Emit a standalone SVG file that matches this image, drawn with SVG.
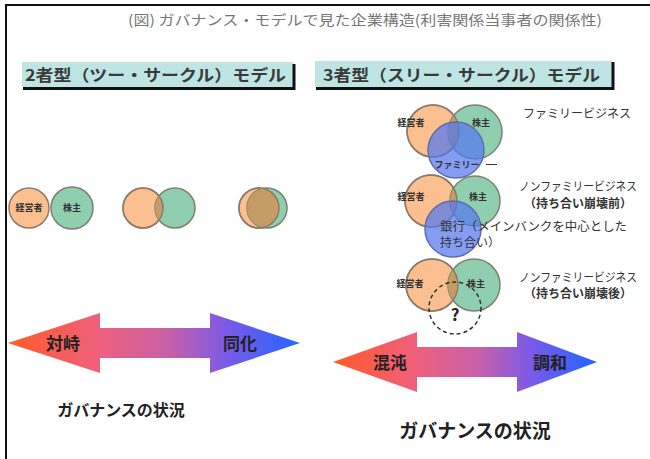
<svg xmlns="http://www.w3.org/2000/svg" width="650" height="459" viewBox="0 0 650 459">
<style>
text{font-family:"Noto Sans CJK JP","Noto Sans",sans-serif}
.ttl{font-size:14px;fill:#777}
.hdr{font-size:16px;font-weight:bold;fill:#3a3a3a}
.hbox{fill:#bfe4e4}
.hsh{fill:none;stroke:#111;stroke-width:3}
.or{fill:#fcbf90;stroke:#8c7b6b;stroke-width:1.5}
.gr{fill:#8fcfb0;stroke:#7d8070;stroke-width:1.5}
.ov{fill:#c49c64}
.bl{fill:#5577ee;fill-opacity:0.72;stroke:#5b6fa8;stroke-width:1.5}
.cl{font-size:9px;font-weight:bold;fill:#333;text-anchor:middle}
.lab{font-size:12px;fill:#333}
.labb{font-size:12px;font-weight:bold;fill:#333}
.al{font-size:17px;font-weight:bold;fill:#222;text-anchor:middle}
.gs{font-weight:bold;fill:#222;text-anchor:middle}
</style>
<defs>
<linearGradient id="ag" x1="0" y1="0" x2="1" y2="0">
<stop offset="0" stop-color="#ff5a28"/>
<stop offset="0.3" stop-color="#f0607a"/>
<stop offset="0.55" stop-color="#c860a8"/>
<stop offset="0.75" stop-color="#7a5ae8"/>
<stop offset="1" stop-color="#2266ff"/>
</linearGradient>
<clipPath id="c1"><circle cx="143" cy="208" r="20"/></clipPath>
<clipPath id="c2"><circle cx="259" cy="208" r="20"/></clipPath>
<clipPath id="c3"><circle cx="433" cy="131" r="26"/></clipPath>
<clipPath id="c4"><circle cx="431" cy="201" r="26"/></clipPath>
<clipPath id="c5"><circle cx="432" cy="285" r="26"/></clipPath>
</defs>
<rect width="650" height="459" fill="#fff"/>
<g id="frame"><path d="M6,459 V5 H650" fill="none" stroke="#111" stroke-width="2"/></g>
<g id="title"><text class="ttl" x="128" y="25" textLength="474" lengthAdjust="spacingAndGlyphs">(図) ガバナンス・モデルで見た企業構造(利害関係当事者の関係性)</text></g>
<g id="hdr2">
<rect class="hbox" x="22" y="62" width="271" height="25"/>
<path class="hsh" d="M23,88.5 H294 V64"/>
<text class="hdr" x="25" y="81" textLength="261" lengthAdjust="spacingAndGlyphs">2者型（ツー・サークル）モデル</text>
</g>
<g id="hdr3">
<rect class="hbox" x="315" y="61" width="297" height="26"/>
<path class="hsh" d="M316,88.5 H613 V62"/>
<text class="hdr" x="323" y="81" textLength="277" lengthAdjust="spacingAndGlyphs">3者型（スリー・サークル）モデル</text>
</g>
<g id="two-sep">
<circle class="or" cx="29" cy="208" r="20"/>
<circle class="gr" cx="72" cy="208" r="21"/>
<text class="cl" x="29" y="211" font-size="8">経営者</text>
<text class="cl" x="72" y="211">株主</text>
</g>
<g id="two-part">
<circle class="or" cx="143" cy="208" r="20"/>
<circle class="gr" cx="175" cy="208" r="20"/>
<circle class="ov" cx="175" cy="208" r="20" clip-path="url(#c1)"/>
<circle cx="143" cy="208" r="20" fill="none" stroke="#8c7b6b" stroke-width="1.5"/>
</g>
<g id="two-full">
<circle class="or" cx="259" cy="208" r="20"/>
<circle class="gr" cx="267" cy="208" r="20"/>
<circle class="ov" cx="267" cy="208" r="20" clip-path="url(#c2)"/>
<circle cx="259" cy="208" r="20" fill="none" stroke="#8c7b6b" stroke-width="1.5"/>
</g>
<g id="three-family">
<circle class="or" cx="433" cy="131" r="26"/>
<circle class="gr" cx="475" cy="132" r="27"/>
<circle class="ov" cx="475" cy="132" r="27" clip-path="url(#c3)"/>
<circle cx="433" cy="131" r="26" fill="none" stroke="#8c7b6b" stroke-width="1.5"/>
<circle class="bl" cx="456" cy="150" r="28"/>
<text class="cl" x="411" y="126">経営者</text>
<text class="cl" x="481" y="126">株主</text>
<text class="cl" x="457" y="168" font-size="10" fill="#223">ファミリー</text>
<path d="M486,164.5 H497" stroke="#335" stroke-width="1"/>
<text class="lab" x="523" y="118">ファミリービジネス</text>
</g>
<g id="three-bank">
<circle class="or" cx="431" cy="201" r="26"/>
<circle class="gr" cx="475" cy="201" r="25"/>
<circle class="ov" cx="475" cy="201" r="25" clip-path="url(#c4)"/>
<circle cx="431" cy="201" r="26" fill="none" stroke="#8c7b6b" stroke-width="1.5"/>
<circle class="bl" cx="453" cy="229" r="28"/>
<text class="cl" x="411" y="200">経営者</text>
<text class="cl" x="478" y="200">株主</text>
<text class="lab" x="440" y="231" font-size="10" textLength="187" lengthAdjust="spacingAndGlyphs">銀行（メインバンクを中心とした</text>
<text class="lab" x="440" y="247" font-size="10">持ち合い）</text>
<text class="lab" x="519" y="191" font-size="10" textLength="118" lengthAdjust="spacingAndGlyphs">ノンファミリービジネス</text>
<text class="labb" x="524" y="208">（持ち合い崩壊前）</text>
</g>
<g id="three-unknown">
<circle class="or" cx="432" cy="285" r="26"/>
<circle class="gr" cx="474" cy="285" r="26"/>
<circle class="ov" cx="474" cy="285" r="26" clip-path="url(#c5)"/>
<circle cx="432" cy="285" r="26" fill="none" stroke="#8c7b6b" stroke-width="1.5"/>
<circle cx="455" cy="308" r="26" fill="none" stroke="#333" stroke-width="1.5" stroke-dasharray="4,3"/>
<text class="cl" x="410" y="287">経営者</text>
<text class="cl" x="476" y="287">株主</text>
<text x="455" y="321" font-size="17" font-weight="bold" fill="#222" text-anchor="middle">?</text>
<text class="lab" x="519" y="282" font-size="10" textLength="118" lengthAdjust="spacingAndGlyphs">ノンファミリービジネス</text>
<text class="labb" x="524" y="298">（持ち合い崩壊後）</text>
</g>
<g id="arrow-left">
<path d="M8,343 L100,313 V328 H210 V313 L300,343 L210,373 V358 H100 V373 Z" fill="url(#ag)"/>
<text class="al" x="63" y="350">対峙</text>
<text class="al" x="240" y="350">同化</text>
<text class="gs" x="121" y="416" font-size="16">ガバナンスの状況</text>
</g>
<g id="arrow-right">
<path d="M333,362 L417,332 V347 H517 V332 L597,362 L517,392 V377 H417 V392 Z" fill="url(#ag)"/>
<text class="al" x="390" y="369">混沌</text>
<text class="al" x="550" y="369">調和</text>
<text class="gs" x="475" y="438" font-size="19">ガバナンスの状況</text>
</g>
</svg>
